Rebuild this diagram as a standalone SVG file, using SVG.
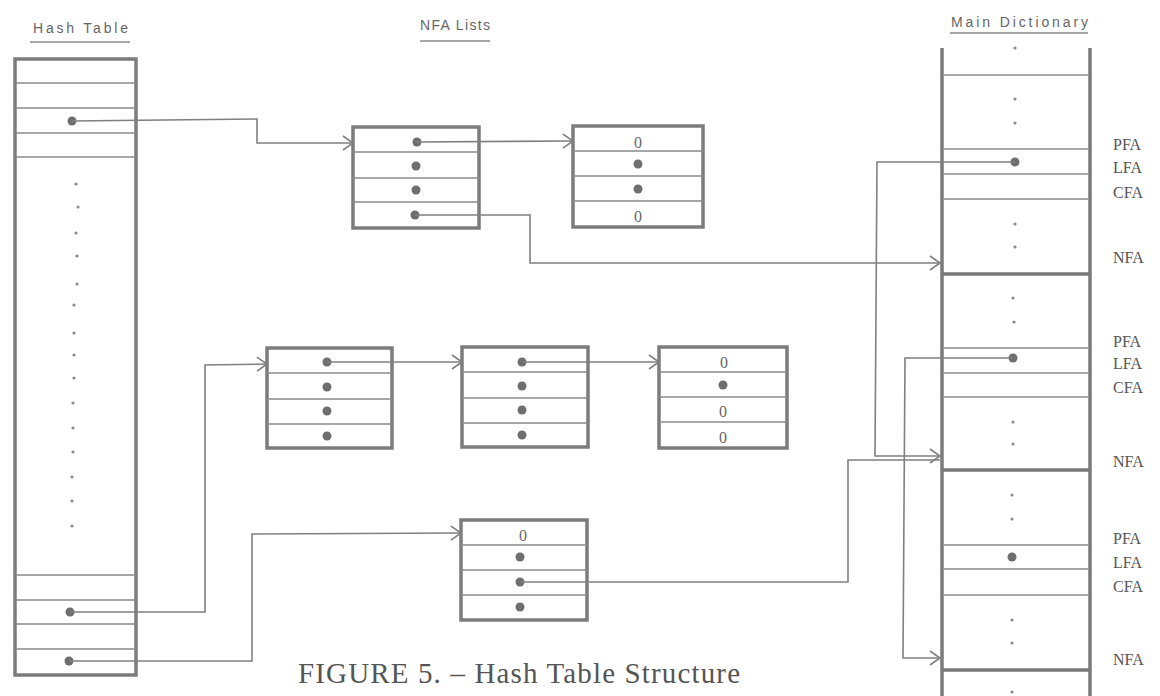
<svg xmlns="http://www.w3.org/2000/svg" width="1160" height="696" viewBox="0 0 1160 696">
<style>
.bg{fill:#ffffff}
.thick{fill:none;stroke:#7c7c7c;stroke-width:3.5}
.thin{stroke:#8a8a8a;stroke-width:1.6;fill:none}
.tk{stroke:#7a7a7a;stroke-width:3.5;fill:none}
.dot{fill:#6e6e6e}
.sdot{fill:#8a8a8a}
.conn{stroke:#808080;stroke-width:1.6;fill:none}
.hdr{font-family:"Liberation Sans",Arial,sans-serif;font-size:14px;fill:#666}
.lbl{font-family:"Liberation Serif","Times New Roman",serif;font-size:16px;fill:#555}
.zero{font-family:"Liberation Serif","Times New Roman",serif;font-size:16px;fill:#666;text-anchor:middle}
.cap{font-family:"Liberation Serif","Times New Roman",serif;font-size:29px;fill:#555}
</style>
<defs>
<marker id="arr" markerUnits="userSpaceOnUse" markerWidth="14" markerHeight="16" refX="11" refY="8" orient="auto">
<path d="M1,1 L11,8 L1,15" fill="none" stroke="#808080" stroke-width="1.6"/>
</marker>
</defs>
<rect class="bg" x="0" y="0" width="1160" height="696"/>

<g id="headers">
<text class="hdr" x="33" y="33" textLength="95">Hash Table</text>
<line class="thin" x1="30" y1="42" x2="130" y2="42"/>
<text class="hdr" x="420" y="30" textLength="70">NFA Lists</text>
<line class="thin" x1="420" y1="41" x2="490" y2="41"/>
<text class="hdr" x="951" y="27" textLength="137">Main Dictionary</text>
<line class="thin" x1="950" y1="33" x2="1088" y2="33"/>
</g>

<g id="hash-table">
<rect class="thick" x="15" y="59" width="121" height="616"/>
<line class="thin" x1="15" y1="83" x2="136" y2="83"/>
<line class="thin" x1="15" y1="108" x2="136" y2="108"/>
<line class="thin" x1="15" y1="133" x2="136" y2="133"/>
<line class="thin" x1="15" y1="157" x2="136" y2="157"/>
<circle class="dot" cx="72" cy="121" r="4.5"/>
<g class="sdot">
<circle cx="76" cy="184" r="1.6"/><circle cx="78" cy="207" r="1.6"/><circle cx="76" cy="233" r="1.6"/><circle cx="77" cy="256" r="1.6"/><circle cx="77" cy="284" r="1.6"/><circle cx="74" cy="305" r="1.6"/><circle cx="74" cy="333" r="1.6"/><circle cx="74" cy="355" r="1.6"/><circle cx="74" cy="378" r="1.6"/><circle cx="73" cy="403" r="1.6"/><circle cx="73" cy="428" r="1.6"/><circle cx="73" cy="452" r="1.6"/><circle cx="72" cy="477" r="1.6"/><circle cx="72" cy="501" r="1.6"/><circle cx="72" cy="526" r="1.6"/>
</g>
<line class="thin" x1="15" y1="575" x2="136" y2="575"/>
<line class="thin" x1="15" y1="600" x2="136" y2="600"/>
<line class="thin" x1="15" y1="624" x2="136" y2="624"/>
<line class="thin" x1="15" y1="649" x2="136" y2="649"/>
<circle class="dot" cx="70" cy="612" r="4.5"/>
<circle class="dot" cx="69" cy="661" r="4.5"/>
</g>

<g id="nfa-top-1">
<rect class="thick" x="353" y="127" width="126" height="101"/>
<line class="thin" x1="353" y1="152" x2="479" y2="152"/>
<line class="thin" x1="353" y1="178" x2="479" y2="178"/>
<line class="thin" x1="353" y1="202" x2="479" y2="202"/>
<circle class="dot" cx="417" cy="142" r="4.5"/>
<circle class="dot" cx="416" cy="166" r="4.5"/>
<circle class="dot" cx="416" cy="190" r="4.5"/>
<circle class="dot" cx="415" cy="215" r="4.5"/>
</g>

<g id="nfa-top-2">
<rect class="thick" x="573" y="126" width="130" height="101"/>
<line class="thin" x1="573" y1="151" x2="703" y2="151"/>
<line class="thin" x1="573" y1="176" x2="703" y2="176"/>
<line class="thin" x1="573" y1="201" x2="703" y2="201"/>
<text class="zero" x="638" y="148">0</text>
<circle class="dot" cx="638" cy="164" r="4.5"/>
<circle class="dot" cx="638" cy="189" r="4.5"/>
<text class="zero" x="638" y="222">0</text>
</g>

<g id="nfa-mid-1">
<rect class="thick" x="267" y="348" width="125" height="100"/>
<line class="thin" x1="267" y1="373" x2="392" y2="373"/>
<line class="thin" x1="267" y1="399" x2="392" y2="399"/>
<line class="thin" x1="267" y1="424" x2="392" y2="424"/>
<circle class="dot" cx="327" cy="362" r="4.5"/>
<circle class="dot" cx="327" cy="387" r="4.5"/>
<circle class="dot" cx="327" cy="411" r="4.5"/>
<circle class="dot" cx="327" cy="436" r="4.5"/>
</g>

<g id="nfa-mid-2">
<rect class="thick" x="462" y="347" width="126" height="100"/>
<line class="thin" x1="462" y1="372" x2="588" y2="372"/>
<line class="thin" x1="462" y1="398" x2="588" y2="398"/>
<line class="thin" x1="462" y1="423" x2="588" y2="423"/>
<circle class="dot" cx="522" cy="362" r="4.5"/>
<circle class="dot" cx="522" cy="386" r="4.5"/>
<circle class="dot" cx="522" cy="410" r="4.5"/>
<circle class="dot" cx="522" cy="435" r="4.5"/>
</g>

<g id="nfa-mid-3">
<rect class="thick" x="659" y="347" width="128" height="101"/>
<line class="thin" x1="659" y1="372" x2="787" y2="372"/>
<line class="thin" x1="659" y1="397" x2="787" y2="397"/>
<line class="thin" x1="659" y1="422" x2="787" y2="422"/>
<text class="zero" x="724" y="368">0</text>
<circle class="dot" cx="723" cy="385" r="4.5"/>
<text class="zero" x="723" y="417">0</text>
<text class="zero" x="723" y="443">0</text>
</g>

<g id="nfa-bottom">
<rect class="thick" x="461" y="520" width="126" height="100"/>
<line class="thin" x1="461" y1="545" x2="587" y2="545"/>
<line class="thin" x1="461" y1="570" x2="587" y2="570"/>
<line class="thin" x1="461" y1="595" x2="587" y2="595"/>
<text class="zero" x="523" y="541">0</text>
<circle class="dot" cx="520" cy="557" r="4.5"/>
<circle class="dot" cx="520" cy="582" r="4.5"/>
<circle class="dot" cx="520" cy="607" r="4.5"/>
</g>

<g id="main-dictionary">
<line class="tk" x1="942" y1="48" x2="942" y2="696"/>
<line class="tk" x1="1090" y1="48" x2="1090" y2="696"/>
<line class="thin" x1="942" y1="75" x2="1090" y2="75"/>
<line class="thin" x1="942" y1="149" x2="1090" y2="149"/>
<line class="thin" x1="942" y1="174" x2="1090" y2="174"/>
<line class="thin" x1="942" y1="199" x2="1090" y2="199"/>
<line class="tk" x1="942" y1="274" x2="1090" y2="274"/>
<line class="thin" x1="942" y1="348" x2="1090" y2="348"/>
<line class="thin" x1="942" y1="373" x2="1090" y2="373"/>
<line class="thin" x1="942" y1="397" x2="1090" y2="397"/>
<line class="tk" x1="942" y1="470" x2="1090" y2="470"/>
<line class="thin" x1="942" y1="545" x2="1090" y2="545"/>
<line class="thin" x1="942" y1="569" x2="1090" y2="569"/>
<line class="thin" x1="942" y1="595" x2="1090" y2="595"/>
<line class="tk" x1="942" y1="670" x2="1090" y2="670"/>
<g class="sdot">
<circle cx="1015" cy="48" r="1.6"/><circle cx="1015" cy="99" r="1.6"/><circle cx="1015" cy="123" r="1.6"/>
<circle cx="1015" cy="224" r="1.6"/><circle cx="1015" cy="247" r="1.6"/>
<circle cx="1013" cy="298" r="1.6"/><circle cx="1014" cy="322" r="1.6"/>
<circle cx="1013" cy="422" r="1.6"/><circle cx="1013" cy="444" r="1.6"/>
<circle cx="1012" cy="495" r="1.6"/><circle cx="1012" cy="519" r="1.6"/>
<circle cx="1012" cy="620" r="1.6"/><circle cx="1012" cy="643" r="1.6"/>
<circle cx="1012" cy="692" r="1.6"/>
</g>
<circle class="dot" cx="1015" cy="162" r="4.5"/>
<circle class="dot" cx="1013" cy="358" r="4.5"/>
<circle class="dot" cx="1012" cy="557" r="4.5"/>
<text class="lbl" x="1113" y="150">PFA</text>
<text class="lbl" x="1113" y="173">LFA</text>
<text class="lbl" x="1113" y="198">CFA</text>
<text class="lbl" x="1113" y="263">NFA</text>
<text class="lbl" x="1113" y="347">PFA</text>
<text class="lbl" x="1113" y="369">LFA</text>
<text class="lbl" x="1113" y="393">CFA</text>
<text class="lbl" x="1113" y="467">NFA</text>
<text class="lbl" x="1113" y="544">PFA</text>
<text class="lbl" x="1113" y="568">LFA</text>
<text class="lbl" x="1113" y="592">CFA</text>
<text class="lbl" x="1113" y="665">NFA</text>
</g>

<g id="connectors">
<polyline class="conn" points="72,121 257,119 257,143 353,143" marker-end="url(#arr)"/>
<polyline class="conn" points="417,142 573,141" marker-end="url(#arr)"/>
<polyline class="conn" points="415,215 530,215 530,263 940,263" marker-end="url(#arr)"/>
<polyline class="conn" points="70,612 205,612 205,365 267,364" marker-end="url(#arr)"/>
<polyline class="conn" points="327,362 462,362" marker-end="url(#arr)"/>
<polyline class="conn" points="522,362 659,362" marker-end="url(#arr)"/>
<polyline class="conn" points="69,661 252,661 252,534 461,533" marker-end="url(#arr)"/>
<polyline class="conn" points="520,582 848,582 848,460 940,460"/>
<polyline class="conn" points="1015,162 877,162 875,456 940,456" marker-end="url(#arr)"/>
<polyline class="conn" points="1013,358 905,358 903,658 940,658" marker-end="url(#arr)"/>
</g>

<text class="cap" x="298" y="683" textLength="442">FIGURE 5. – Hash Table Structure</text>
</svg>
